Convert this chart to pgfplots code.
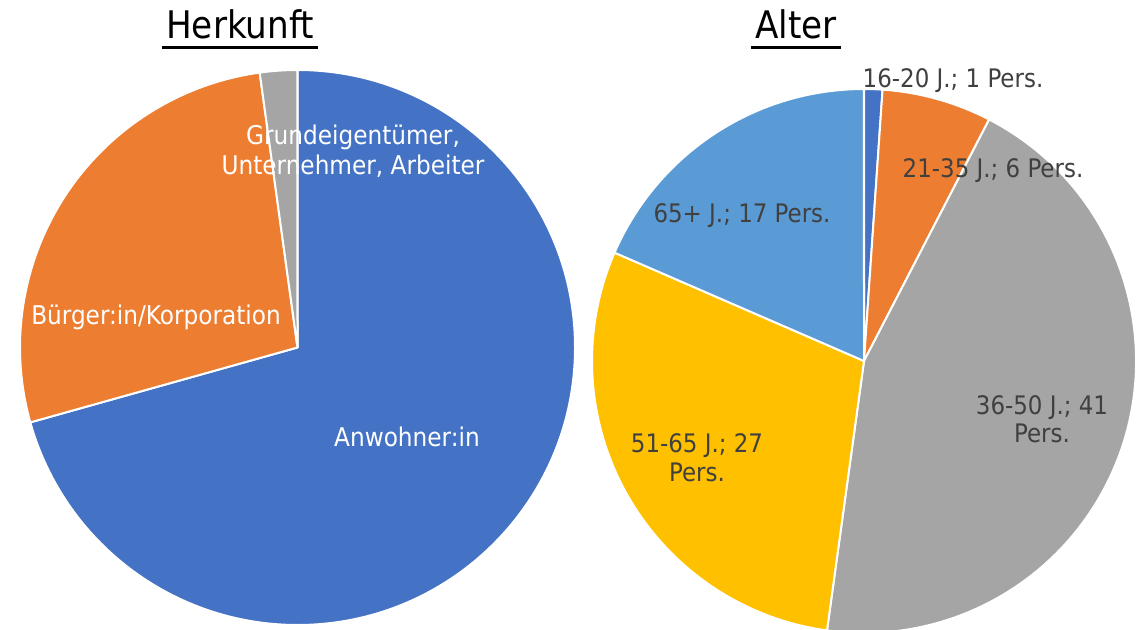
\documentclass[border=0pt]{standalone}
\usepackage{pgfplots}
\pgfplotsset{compat=1.18}
\usepackage{pgfplotstable}
\usepackage{fontspec}
\setmainfont{DejaVu Sans Condensed}
\definecolor{cBlue}{HTML}{4472C4}
\definecolor{cOrange}{HTML}{ED7D31}
\definecolor{cGray}{HTML}{A5A5A5}
\definecolor{cYellow}{HTML}{FFC000}
\definecolor{cLBlue}{HTML}{5B9BD5}
\definecolor{cText}{HTML}{404040}
\newcommand\fs[1]{\fontsize{#1bp}{#1bp}\selectfont}
% Herkunft: Anwohner:in, Buerger:in/Korporation, Grundeigentuemer...
\pgfplotstableread{
idx value
0 65
1 25
2 2
}\herkunft
% Alter: 16-20, 21-35, 36-50, 51-65, 65+
\pgfplotstableread{
idx value
0 1
1 6
2 41
3 27
4 17
}\alter
\newcommand{\getv}[3]{\pgfplotstablegetelem{#2}{value}\of#1\let#3\pgfplotsretval}
\newcommand\slice[6]{\fill[#1, draw=white, line width=2bp, line join=round] (axis cs:#2,#3) -- ++(#4:#6) arc[start angle=#4, end angle=#5, radius=#6] -- cycle;}
\begin{document}
\begin{tikzpicture}
\getv\herkunft{0}\hA \getv\herkunft{1}\hB \getv\herkunft{2}\hC
\pgfmathsetmacro\hT{\hA+\hB+\hC}
\pgfmathsetmacro\hAb{90-360*(\hA/\hT)}
\pgfmathsetmacro\hBb{\hAb-360*(\hB/\hT)}
\pgfmathsetmacro\hCb{\hBb-360*(\hC/\hT)}
\getv\alter{0}\aA \getv\alter{1}\aB \getv\alter{2}\aC \getv\alter{3}\aD \getv\alter{4}\aE
\pgfmathsetmacro\aT{\aA+\aB+\aC+\aD+\aE}
\pgfmathsetmacro\aAb{90-360*(\aA/\aT)}
\pgfmathsetmacro\aBb{\aAb-360*(\aB/\aT)}
\pgfmathsetmacro\aCb{\aBb-360*(\aC/\aT)}
\pgfmathsetmacro\aDb{\aCb-360*(\aD/\aT)}
\pgfmathsetmacro\aEb{\aDb-360*(\aE/\aT)}
\begin{axis}[at={(0,0)}, anchor=south west, width=1137bp, height=630bp, scale only axis,
  xmin=0, xmax=1137, ymin=0, ymax=630, hide axis, clip=true]
\slice{cBlue}{297.5}{282.5}{90}{\hAb}{277.5bp}
\slice{cOrange}{297.5}{282.5}{\hAb}{\hBb}{277.5bp}
\slice{cGray}{297.5}{282.5}{\hBb}{\hCb}{277.5bp}
\slice{cBlue}{864}{269}{90}{\aAb}{272bp}
\slice{cOrange}{864}{269}{\aAb}{\aBb}{272bp}
\slice{cGray}{864}{269}{\aBb}{\aCb}{272bp}
\slice{cYellow}{864}{269}{\aCb}{\aDb}{272bp}
\slice{cLBlue}{864}{269}{\aDb}{\aEb}{272bp}
\end{axis}
% titles
\node[anchor=base, inner sep=0, font=\fs{38}] at (240bp,591bp) {Herkunft};
\draw[line width=3bp] (162bp,582bp) -- (318bp,582bp);
\node[anchor=base, inner sep=0, font=\fs{38}] at (796bp,591bp) {Alter};
\draw[line width=3bp] (751bp,582bp) -- (841bp,582bp);
% left labels
\begin{scope}[every node/.style={anchor=base, inner sep=0, text=white, font=\fs{25.8}}]
\node at (353bp,485bp) {Grundeigentümer,};
\node at (353bp,455bp) {Unternehmer, Arbeiter};
\node at (156bp,305bp) {Bürger:in/Korporation};
\node at (407bp,183bp) {Anwohner:in};
\end{scope}
% right labels
\begin{scope}[every node/.style={anchor=base, inner sep=0, text=cText, font=\fs{25.5}}]
\node at (953bp,542bp) {16-20 J.; 1 Pers.};
\node at (993bp,452bp) {21-35 J.; 6 Pers.};
\node at (742bp,407bp) {65+ J.; 17 Pers.};
\node at (697bp,177bp) {51-65 J.; 27};
\node at (697bp,148bp) {Pers.};
\node at (1042bp,215bp) {36-50 J.; 41};
\node at (1042bp,187bp) {Pers.};
\end{scope}
\pgfresetboundingbox
\path[use as bounding box] (0,0) rectangle (1137bp,630bp);
\end{tikzpicture}
\end{document}
